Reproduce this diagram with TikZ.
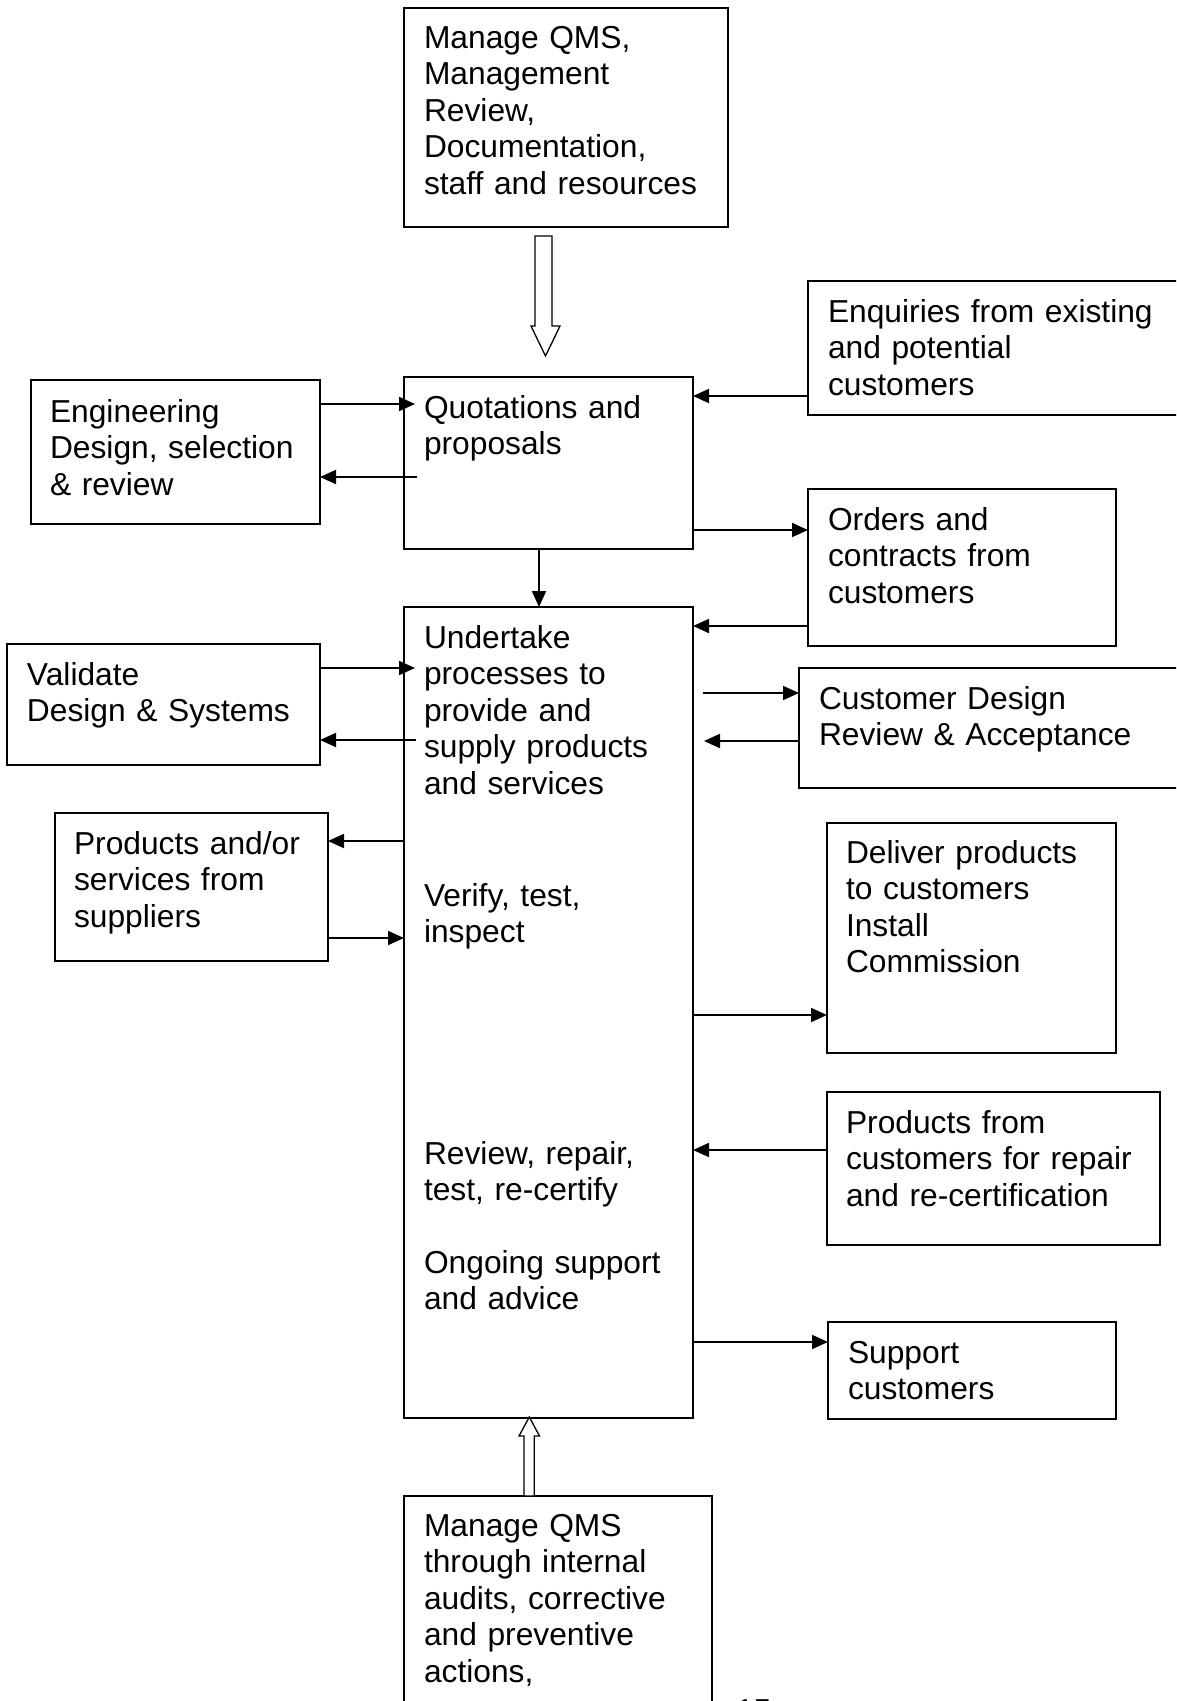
\documentclass[tikz,border=0pt]{standalone}
\usepackage{fontspec}
\setmainfont{Liberation Sans}
\usetikzlibrary{arrows.meta}
\begin{document}
\begin{tikzpicture}[x=1pt,y=-1pt,
  box/.style={draw, line width=1.5pt, inner sep=0pt, outer sep=0pt, anchor=north west},
  txt/.style={anchor=base west, inner sep=0pt, outer sep=0pt, text width=420pt, align=left,
    font=\fontsize{31.75pt}{36.6pt}\selectfont},
  arr/.style={line width=1.9pt, -{Triangle[length=16pt,width=14pt]}},
  hollow/.style={draw, line width=1.3pt, fill=white, line join=miter}]
\useasboundingbox (0,0) rectangle (1176,1701);
\clip (0,0) rectangle (1176,1701);
\fill[white] (0,0) rectangle (1176,1701);

% boxes
\node[box, minimum width=324pt, minimum height=219pt] (top) at (404,8) {};
\node[box, minimum width=289pt, minimum height=172pt] (quot) at (404,377) {};
\node[box, minimum width=382pt, minimum height=134pt] (enq) at (808,281) {};
\node[box, minimum width=289pt, minimum height=144pt] (eng) at (31,380) {};
\node[box, minimum width=308pt, minimum height=157pt] (orders) at (808,489) {};
\node[box, minimum width=289pt, minimum height=811pt] (main) at (404,607) {};
\node[box, minimum width=313pt, minimum height=121pt] (val) at (7,644) {};
\node[box, minimum width=391pt, minimum height=120pt] (cdr) at (799,668) {};
\node[box, minimum width=273pt, minimum height=148pt] (prod) at (55,813) {};
\node[box, minimum width=289pt, minimum height=230pt] (deliver) at (827,823) {};
\node[box, minimum width=333pt, minimum height=153pt] (repair) at (827,1092) {};
\node[box, minimum width=288pt, minimum height=97pt] (support) at (828,1322) {};
\node[box, minimum width=308pt, minimum height=224pt] (bottom) at (404,1496) {};

% texts
\node[txt] (topt) at ([shift={(20,40)}]top.north west) {Manage QMS,\\Management\\Review,\\Documentation,\\staff and resources};
\node[txt] (quott) at ([shift={(20,41)}]quot.north west) {Quotations and\\proposals};
\node[txt] (enqt) at ([shift={(20,41)}]enq.north west) {Enquiries from existing\\and potential\\customers};
\node[txt] (engt) at ([shift={(19,42)}]eng.north west) {Engineering\\Design, selection\\\& review};
\node[txt] (orderst) at ([shift={(20,41)}]orders.north west) {Orders and\\contracts from\\customers};
\node[txt] (maint1) at ([shift={(20,41)}]main.north west) {Undertake\\processes to\\provide and\\supply products\\and services};
\node[txt] (maint2) at ([shift={(20,299)}]main.north west) {Verify, test,\\inspect};
\node[txt] (maint3) at ([shift={(20,557)}]main.north west) {Review, repair,\\test, re-certify};
\node[txt] (maint4) at ([shift={(20,666)}]main.north west) {Ongoing support\\and advice};
\node[txt] (valt) at ([shift={(20,41)}]val.north west) {Validate\\Design \& Systems};
\node[txt] (cdrt) at ([shift={(20,41)}]cdr.north west) {Customer Design\\Review \& Acceptance};
\node[txt] (prodt) at ([shift={(19,41)}]prod.north west) {Products and/or\\services from\\suppliers};
\node[txt] (delivert) at ([shift={(19,40)}]deliver.north west) {Deliver products\\to customers\\Install\\Commission};
\node[txt] (repairt) at ([shift={(19,41)}]repair.north west) {Products from\\customers for repair\\and re-certification};
\node[txt] (supportt) at ([shift={(20,41)}]support.north west) {Support\\customers};
\node[txt] (bottomt) at ([shift={(20,40)}]bottom.north west) {Manage QMS\\through internal\\audits, corrective\\and preventive\\actions,};
\node[txt] (pg) at (736,1721) {15};

% connectors
\draw[arr, shorten >=-11pt] (eng.east |- 0,404) -- (quot.west |- 0,404);
\draw[arr, shorten <=-13pt] (quot.west |- 0,477) -- (eng.east |- 0,477);
\draw[arr] (enq.west |- 0,396) -- (quot.east |- 0,396);
\draw[arr] (quot.east |- 0,530) -- (orders.west |- 0,530);
\draw[arr] (539,0 |- quot.south) -- (539,0 |- main.north);
\draw[arr] (orders.west |- 0,626) -- (main.east |- 0,626);
\draw[arr, shorten >=-11pt] (val.east |- 0,668) -- (main.west |- 0,668);
\draw[arr, shorten <=-12pt] (main.west |- 0,740) -- (val.east |- 0,740);
\draw[arr, shorten <=10pt] (main.east |- 0,693) -- (cdr.west |- 0,693);
\draw[arr, shorten >=11pt] (cdr.west |- 0,741) -- (main.east |- 0,741);
\draw[arr] (main.west |- 0,841) -- (prod.east |- 0,841);
\draw[arr] (prod.east |- 0,938) -- (main.west |- 0,938);
\draw[arr] (main.east |- 0,1015) -- (deliver.west |- 0,1015);
\draw[arr] (repair.west |- 0,1150) -- (main.east |- 0,1150);
\draw[arr] (main.east |- 0,1342) -- (support.west |- 0,1342);

% hollow block arrows
\draw[hollow] (535,236) -- (552,236) -- (552,326) -- (560,326) -- (545.5,356) -- (531,326) -- (535,326) -- cycle;
\draw[hollow] (524,1496) -- (524,1436) -- (519,1436) -- (529.3,1417) -- (539.5,1436) -- (534.3,1436) -- (534.3,1496) -- cycle;
\end{tikzpicture}
\end{document}
